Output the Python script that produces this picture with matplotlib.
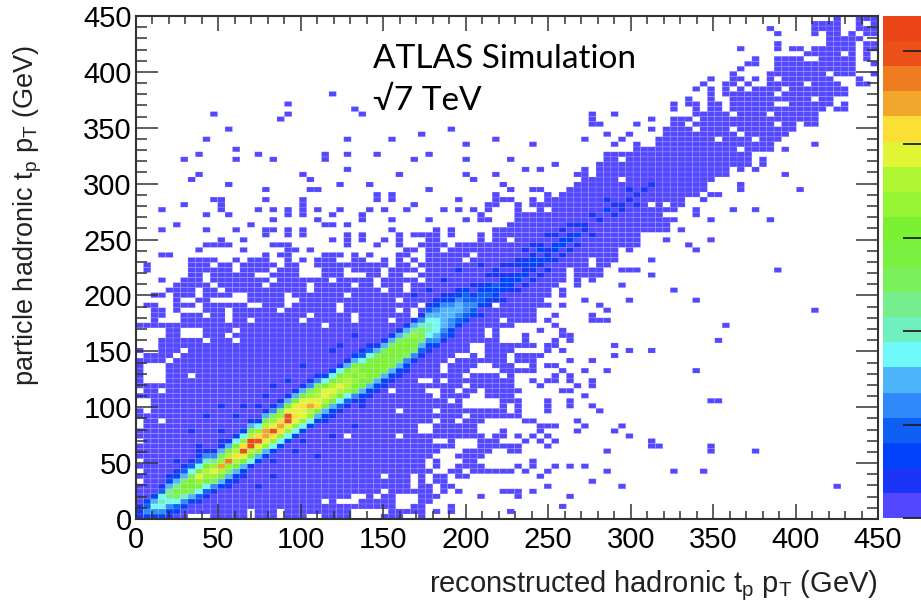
import numpy as np
import matplotlib
matplotlib.use("Agg")
import matplotlib.pyplot as plt
from matplotlib.colors import ListedColormap, BoundaryNorm

W, H = 921, 610
plt.rcParams['font.family'] = ['Liberation Sans', 'DejaVu Sans']
plt.rcParams['mathtext.fontset'] = 'custom'
plt.rcParams['mathtext.rm'] = 'Liberation Sans'

# histogram binning and palette
n_bins = 100
pt_max = 450
z_max = 107.4
colorbar_ticks = [0, 20, 40, 60, 80, 100]
pt_ticks = [0, 50, 100, 150, 200, 250, 300, 350, 400, 450]
palette = ['#5347FF', '#1A35F5', '#0143FA', '#0D5FF5', '#2F89FA', '#4EB5FA', '#70F9F9', '#6FF0BE', '#77EE8E', '#7AF05A',
           '#7AF140', '#7AF133', '#95F533', '#B0F532', '#E1F534', '#FBDF35', '#F2A62B', '#EE7D22', '#EB5019', '#EB4517']

# occupied bins per row (row: column spans)
occupied = {
    99: "94 97-99", 98: "91-94 97 99", 97: "85 91-94 97-99", 96: "86 91 93-94 96 98-99", 95: "93-97",
    94: "86 93-96 98-99", 93: "81 86 88-89 91-96 98-99", 92: "90-94 96 98", 91: "83 86-89 92-96 98",
    90: "82-83 86-96 99", 89: "81 86-96", 88: "80 85-92 94-96 99", 87: "77 80-81 83 85 87-93 97",
    86: "76 79-80 82 85-89 91-94 97-98", 85: "75 77 79 81 83-86 88-95", 84: "26 77 79-85 87-95",
    83: "74 77 80-90 92-93", 82: "20 72 74-75 77-78 80-85 88-93 95", 81: "29 72 75 77-78 80-92 94-95",
    80: "10 20 30 61 64 75-79 81-84 86-91", 79: "19 61 69 72-74 76-91", 78: "61-62 67 72-73 75-85 87-88 90-91",
    77: "12 42 69 71-74 76-79 81-88", 76: "38 63 66 71-80 82-87", 75: "9 28 34 48 60 65 70-77 79-82 84-86",
    74: "44 53 64 67 70-85 91", 73: "13 67-80 82-85 87", 72: "8 16 25 28 32 39 63-82",
    71: "6 13 18 25 37 44 50 63-64 66-82 84", 70: "56 62-82 84", 69: "28 52 54 60 62-79 81 83",
    68: "8 22 35 44 48 59-60 62-79 87", 67: "7 23 45 60-64 66-77", 66: "12 27 31 49 59-76 81",
    65: "17 23-24 39 50 53-54 58-76 81 89", 64: "32 34 48 55 57-75 77-78", 63: "10-11 17 22 32 34 43 48-50 53 55-73 76",
    62: "6 11 22 37 47-48 51 53-68 70 72-73", 61: "3 11 16 18 20 22 24 27 31 33 36 41 43 45 47 51 54 56-72 75 80 83",
    60: "9 12 20 22 26 30 46 51-70 75", 59: "18 24 30 34 39 44 46-47 51-72 77 85", 58: "5 15 25-26 28 50-71",
    57: "3 9 13 17-18 20 22 34 40 42 48-71 73", 56: "17 20 22 28 30 35 37-40 42 46 48-67",
    55: "11 14 26 28 30 33 35 39-40 46 48-49 51-67 71 77", 54: "9-12 18-20 28 32 35 38-41 43-67 74",
    53: "8 14 20-21 23 36-37 39-40 42-64 66 75", 52: "3-4 17 19-20 25-27 29 31 35-36 39-44 46-64",
    51: "7-10 13 15-17 20 22 24-26 29-30 33 35 37 39-43 45-60 62-64 69",
    50: "1 7-9 11-12 14-18 20-21 24-33 35-36 38-60 62-63", 49: "1 7-12 14-17 19-21 25-27 29-32 34-37 39-57 59-62 65-67 86",
    48: "7-8 10-15 18-21 25-27 31-32 34-35 38-57 59-62 69", 47: "3 6-8 10-17 19-25 27-31 33-37 39-57 59 61",
    46: "5-9 11-16 18-22 24-28 30-31 33-35 37-56 59 65", 45: "4-7 9-10 12-22 24-32 34-35 37-46 48-55 57 72",
    44: "2-3 5-7 9-12 15-19 21-27 29-36 38-55 57", 43: "5 8-9 15-19 22-34 36-41 43-54 60 66 75",
    42: "1-2 5-7 9-14 17-19 21-26 28-37 39-47 49-55 57 62", 41: "2-3 5 9-11 13-18 20-26 28-34 36 38-53 63 91",
    40: "2-3 6-8 10-11 13-22 24-28 30-36 38-53 56 61", 39: "2 6-11 13-14 16-21 23-28 30-33 35-48 50-53 55 61-63",
    38: "0-24 26-50 56 79", 37: "4-5 9-12 14-46 48 54 57", 36: "4-5 9-11 13-46 48 52 57-58", 35: "3-8 10-12 14-48 52 56 58 78",
    34: "3-44 47-53 55-56 64", 33: "0 3-5 7-44 47-50 55 57 66 69", 32: "1-4 6-42 45 47-49 51-54 64",
    31: "0-3 5-41 43-49 51-53 58 61", 30: "0 4-40 42-45 48-50 53 55-56", 29: "0 4-40 42-44 49-53 57 60 63 75",
    28: "0 4-6 8-43 45-48 50 56 58", 27: "0 4-37 40 42-50 53 55-56 58 61", 26: "0-43 45-50 54 59 61",
    25: "1-2 4-33 35-38 41-42 44-45 47-51 57-58", 24: "0-39 41-44 47-50 60", 23: "2-41 43 49-51 55 58 77-78",
    22: "2-43 49 51 55 58 61", 21: "0 2-34 36-39 41-49 51 55 62", 20: "0-43 45-51", 19: "1-2 4-39 41-42 44-46 52-53 59",
    18: "1-37 40-45 54-56 60 65", 17: "0-37 40-45 49 54 59 64", 16: "0-27 29-34 36-46 48-49 51 53 55 66",
    15: "1-39 42 46-48 52 54 56 69", 14: "0-42 46-51 55 69-70 77", 13: "0-40 44-47 50-51 63 77 83", 12: "0-39 43-46",
    11: "1-38 40 44-45 53", 10: "0-38 40 43-46 51 53 56 58 60", 9: "1-39 42-43 45-50 52 55 63 72 76",
    8: "0-32 34-36 38 40-41 43-44 54", 7: "1-36 38 40-41 61", 6: "0-36 38-39 41-42 55 65 94", 5: "0-32 34-39 41 43 49-51 53",
    4: "0-28 31 33-34 38-40 46 51 58", 3: "0-24 26 30-34 38-39", 2: "0-34 37-38 42 57", 1: "0-14 16-18 20-28 34-38 40 42 50",
    0: "0-6 10-14 16-18 20-22 25-28 33-35 38",
}

# colour level of the bins along the diagonal, one string per column,
# first character is the bin 10 rows below the diagonal, '.' keeps the lowest level
level_chars = "123456789abcdefghijk"
ridge = [
    "..........222", ".........3543", "........35763", ".......3578742", "......23579963",
    "......347ab9632", "......358bca642", "......36acca742", ".....247bdfb742", ".....247bdec852",
    ".....25adfd952", ".....36cehda62", "....236adiec62", ".....36begec73", ".....36cfjgd73",
    ".....27cejkeb62", ".....36dfjgd73", ".....36dfhheb62", ".....37dgjfda52", ".....37dghgda52",
    ".....37dfjjfc62", ".....37dfgffc62", ".....37dffgfb62", ".....37dehfda52", ".....36cgfeda52",
    "....236ceffc73", "....236cefec73", "....247cefdb72", "....247deedb62", "....25bcdcdb63",
    "...236bcdcb742", "...236bcccb742", "...236bccca62", "...236bccca62", "...236bbcca62",
    "...236abcca62", "...235abcb962", "....25abcd962", "....246aaa852", "....2357887642",
    "....3567776532", "....2456666532", "....335566532", ".....34566532", ".....3455443",
    ".....34543.2", "....2.34432", ".....23433.2", ".....2334.22", "....2.3332.2",
    ".....2332.2", "....2.33.22", "....2.3232.2", "....2.2332.2", "....2.23.32",
    "....2.322..2", ".....2.33.2", ".....2.33.2", ".....2.32.2", ".....2.3.2",
    ".......22", ".....2...2", ".......2", "........3.2", "......2.2",
    "......22", ".......2.2", ".....2.2", ".......2", ".......2",
]
# scattered blue bins away from the ridge (column, row)
blue_spots = [(7, 17), (9, 20), (11, 22), (14, 22), (15, 19), (11, 17), (13, 20), (16, 22), (8, 13), (8, 14), (5, 11),
              (6, 10), (4, 8), (11, 15), (18, 8), (18, 11), (21, 13), (22, 15), (24, 20), (16, 6), (13, 7), (14, 8),
              (17, 24), (18, 26), (20, 27), (22, 30), (23, 27), (26, 33), (27, 34), (29, 36), (30, 22), (33, 26), (35, 28),
              (24, 12), (26, 16), (29, 18), (31, 24), (37, 44), (39, 45), (41, 47), (43, 49), (46, 50)]


def parse_spans(text):
    cols = []
    for part in text.split():
        a, _, b = part.partition('-')
        cols.extend(range(int(a), int(b or a) + 1))
    return cols


levels = np.zeros((n_bins, n_bins))
for row, text in occupied.items():
    levels[row, parse_spans(text)] = 1
for col, text in enumerate(ridge):
    for i, ch in enumerate(text):
        row = col - 10 + i
        if ch != '.' and row >= 0:
            levels[row, col] = level_chars.index(ch) + 1
for col, row in blue_spots:
    levels[row, col] = max(levels[row, col], 2)

step = z_max / len(palette)
counts = np.ma.masked_equal((levels - 0.5) * step, -0.5 * step)
edges = np.linspace(0, pt_max, n_bins + 1)

fig = plt.figure(figsize=(W / 100, H / 100), dpi=100)
ax = fig.add_axes([136 / W, 1 - 519 / H, 742 / W, 503 / H])
cmap = ListedColormap(palette)
norm = BoundaryNorm(np.linspace(0, z_max, len(palette) + 1), cmap.N)
mesh = ax.pcolor(edges, edges, counts, cmap=cmap, norm=norm, edgecolors=(1, 1, 1, 0.14), linewidth=0.6)

ax.set_xlim(0, pt_max)
ax.set_ylim(0, pt_max)
ax.set_xticks(pt_ticks)
ax.set_yticks(pt_ticks)
ax.set_xticks(np.arange(0, pt_max + 1, 10), minor=True)
ax.set_yticks(np.arange(0, pt_max + 1, 10), minor=True)
ax.tick_params(axis='x', which='major', direction='in', top=True, length=11, width=1.1, color='#333333', labelsize=21, pad=5)
ax.tick_params(axis='x', which='minor', direction='in', top=True, length=5.5, width=1.1, color='#333333')
ax.tick_params(axis='y', which='major', direction='in', right=True, length=16, width=1.1, color='#333333', labelsize=21, pad=3)
ax.tick_params(axis='y', which='minor', direction='in', right=True, length=8, width=1.1, color='#333333')
for spine in ax.spines.values():
    spine.set_linewidth(1.5)
    spine.set_color('#333333')

cax = fig.add_axes([883 / W, 1 - 518 / H, 38 / W, 502 / H])
cbar = fig.colorbar(mesh, cax=cax, ticks=colorbar_ticks, spacing='proportional')
cbar.outline.set_visible(False)
cax.tick_params(axis='y', direction='in', length=13, width=1.3, color='#222222', labelright=False)
cax.minorticks_off()

fig.text(878 / W, 1 - 586 / H, r'reconstructed hadronic t$_{\mathrm{p}}$ p$_{\mathrm{T}}$ (GeV)',
         ha='right', va='center', fontsize=21, color='#222222')
fig.text(28 / W, 1 - 45 / H, r'particle hadronic t$_{\mathrm{p}}$ p$_{\mathrm{T}}$ (GeV)',
         ha='center', va='top', rotation=90, fontsize=19.5, color='#222222')
fig.text(373 / W, 1 - 59 / H, 'ATLAS Simulation', ha='left', va='center', fontsize=24, family=['Lato', 'DejaVu Sans'])
fig.text(373 / W, 1 - 101 / H, '\u221a7 TeV', ha='left', va='center', fontsize=24, family=['Lato', 'DejaVu Sans'])

fig.savefig('out.png', dpi=100)
